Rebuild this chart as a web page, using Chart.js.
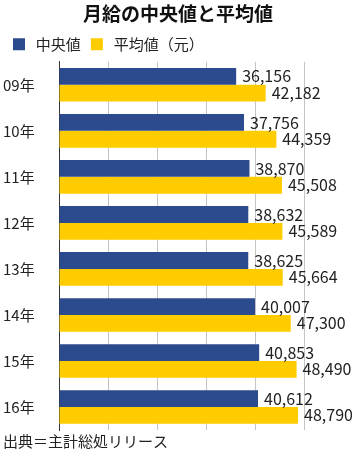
<!DOCTYPE html>
<html lang="ja">
  <head>
    <meta charset="UTF-8" />
    <title>月給の中央値と平均値</title>
    <script src="https://cdn.jsdelivr.net/npm/chart.js"></script>
    <style>
      body {
        margin: 0;
        background: #fff;
      }
      #wrap {
        width: 362px;
        height: 452px;
      }
    </style>
  </head>
  <body>
    <div id="wrap"><canvas id="chart"></canvas></div>
    <script>
      const years = ['09年', '10年', '11年', '12年', '13年', '14年', '15年', '16年']
      const median = [36156, 37756, 38870, 38632, 38625, 40007, 40853, 40612]
      const average = [42182, 44359, 45508, 45589, 45664, 47300, 48490, 48790]

      const FONT = '"Noto Sans CJK JP", "Noto Sans", sans-serif'
      Chart.defaults.font.family = FONT
      Chart.defaults.color = '#222'

      // 数値ラベル（バーの右側）
      const valueLabels = {
        id: 'valueLabels',
        afterDatasetsDraw(chart) {
          const ctx = chart.ctx
          ctx.save()
          ctx.font = '16px ' + FONT
          ctx.fillStyle = '#222'
          ctx.textAlign = 'left'
          ctx.textBaseline = 'middle'
          chart.data.datasets.forEach((ds, i) => {
            chart.getDatasetMeta(i).data.forEach((bar, j) => {
              ctx.fillText(ds.data[j].toLocaleString('en-US'), bar.x + 6, bar.y)
            })
          })
          ctx.restore()
        },
      }

      new Chart(document.getElementById('chart'), {
        type: 'bar',
        data: {
          labels: years,
          datasets: [
            {
              label: ' 中央値',
              data: median,
              backgroundColor: '#2c4a8e',
            },
            {
              label: ' 平均値（元）',
              data: average,
              backgroundColor: '#ffcc00',
            },
          ],
        },
        options: {
          indexAxis: 'y',
          responsive: true,
          maintainAspectRatio: false,
          animation: false,
          categoryPercentage: 0.73,
          barPercentage: 1,
          layout: {
            padding: { left: 3, right: 9, top: 2, bottom: 2 },
          },
          plugins: {
            title: {
              display: true,
              text: '月給の中央値と平均値',
              color: '#111',
              font: { size: 19, weight: 'bold' },
              padding: { top: 0, bottom: 2 },
            },
            subtitle: {
              display: true,
              position: 'bottom',
              align: 'start',
              text: '出典＝主計総処リリース',
              color: '#222',
              font: { size: 15 },
              padding: { top: 2, bottom: 0 },
            },
            legend: {
              align: 'start',
              labels: {
                boxWidth: 12,
                boxHeight: 12,
                padding: 10,
                color: '#222',
                font: { size: 15 },
              },
            },
            tooltip: { enabled: false },
          },
          scales: {
            x: {
              min: 0,
              max: 60000,
              ticks: { display: false, stepSize: 10000 },
              grid: {
                color: (c) => (c.tick && c.tick.value === 60000 ? 'rgba(0,0,0,0)' : '#c4c4c4'),
                drawTicks: false,
              },
              border: { display: false },
            },
            y: {
              ticks: {
                crossAlign: 'far',
                color: '#222',
                font: { size: 15 },
              },
              grid: { display: false },
              border: { color: '#333', width: 1 },
              afterFit(scale) {
                scale.width = 56
              },
            },
          },
        },
        plugins: [valueLabels],
      })
    </script>
  </body>
</html>
